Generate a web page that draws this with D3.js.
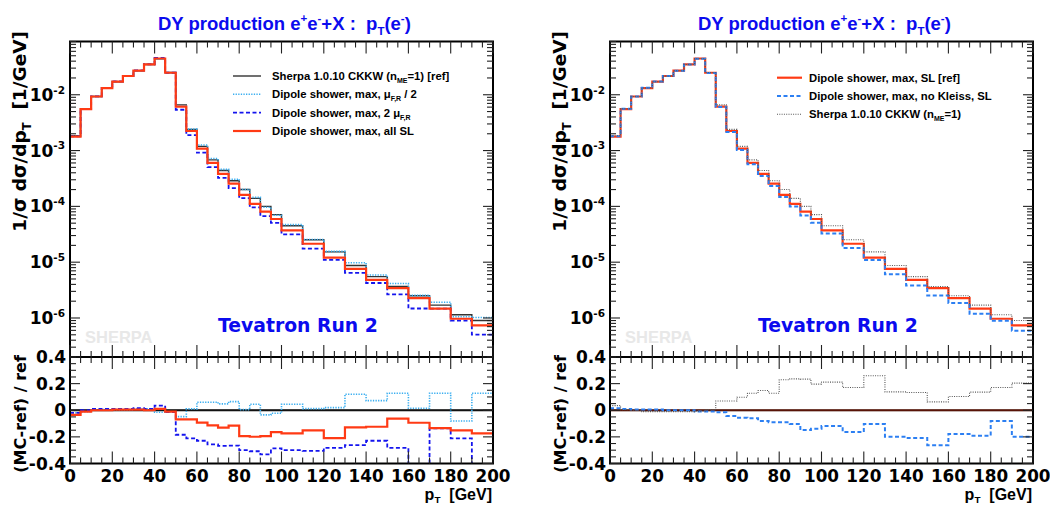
<!DOCTYPE html>
<html><head><meta charset="utf-8">
<script src="https://cdn.jsdelivr.net/npm/d3@7"></script>
<style>body{margin:0;background:#fff} text{white-space:pre}</style>
</head><body><svg id="c" width="1050" height="506"></svg>
<script>
// ---------------- data ----------------
const binEdges = [0,5,10,15,20,25,30,35,40,45,50,55,60,65,70,75,80,85,90,95,100,110,120,130,140,150,160,170,180,190,200];
const xTicksMajor = [0,20,40,60,80,100,120,140,160,180,200];
const ratioTickLabels = [-0.4,-0.2,0,0.2,0.4];
const logDecades = [-6,-5,-4,-3,-2];

// left panel: 1/sigma dsigma/dpT
const sherpaRef    = [1.84e-3,5.6e-3,9.3e-3,1.32e-2,1.71e-2,2.16e-2,2.69e-2,3.49e-2,4.42e-2,2.51e-2,6.6e-3,2.4e-3,1.19e-3,6.8e-4,4.4e-4,2.88e-4,2.0e-4,1.39e-4,1.0e-4,7.1e-5,4.5e-5,2.52e-5,1.53e-5,8.7e-6,5.5e-6,3.67e-6,2.5e-6,1.7e-6,1.14e-6,9.0e-7];
const dipoleHalfMu = [1.80e-3,5.54e-3,9.3e-3,1.33e-2,1.72e-2,2.17e-2,2.72e-2,3.52e-2,4.35e-2,2.47e-2,6.28e-3,2.42e-3,1.26e-3,7.21e-4,4.61e-4,3.07e-4,2.01e-4,1.45e-4,9.65e-5,6.94e-5,4.70e-5,2.55e-5,1.56e-5,9.74e-6,5.90e-6,4.14e-6,2.54e-6,1.92e-6,1.05e-6,1.02e-6];
const dipoleTwoMu  = [1.80e-3,5.6e-3,9.39e-3,1.33e-2,1.73e-2,2.18e-2,2.73e-2,3.52e-2,4.57e-2,2.48e-2,5.39e-3,1.89e-3,9.17e-4,5.05e-4,3.23e-4,2.12e-4,1.40e-4,9.62e-5,6.68e-5,5.06e-5,3.15e-5,1.75e-5,1.10e-5,6.42e-6,4.24e-6,2.64e-6,1.48e-6,1.47e-6,9.0e-7,5.04e-7];
const dipoleAllSL  = [1.78e-3,5.54e-3,9.3e-3,1.32e-2,1.72e-2,2.17e-2,2.70e-2,3.49e-2,4.46e-2,2.48e-2,6.15e-3,2.24e-3,1.08e-3,6.03e-4,3.82e-4,2.55e-4,1.61e-4,1.11e-4,8.06e-5,5.94e-5,3.72e-5,2.14e-5,1.21e-5,7.59e-6,4.82e-6,3.44e-6,2.27e-6,1.47e-6,9.7e-7,7.4e-7];
// left panel: (MC-ref)/ref
const ratioHalfMu = [-0.02,-0.01,0.0,0.005,0.005,0.005,0.01,0.01,-0.015,-0.015,-0.048,0.01,0.06,0.06,0.048,0.065,0.005,0.045,-0.035,-0.023,0.045,0.012,0.02,0.12,0.072,0.128,0.015,0.128,-0.081,0.128];
const ratioTwoMu  = [-0.02,0.0,0.01,0.01,0.01,0.01,0.015,0.01,0.035,-0.013,-0.184,-0.211,-0.229,-0.257,-0.267,-0.265,-0.30,-0.308,-0.332,-0.287,-0.30,-0.305,-0.282,-0.262,-0.229,-0.282,-0.41,-0.136,-0.211,-0.44];
const ratioAllSL  = [-0.035,-0.01,0.0,0.0,0.005,0.005,0.005,0.0,0.01,-0.01,-0.068,-0.068,-0.093,-0.113,-0.131,-0.116,-0.194,-0.199,-0.194,-0.164,-0.174,-0.151,-0.209,-0.128,-0.124,-0.063,-0.094,-0.134,-0.151,-0.174];

// right panel
const dipoleSLRef  = [1.78e-3,5.54e-3,9.3e-3,1.32e-2,1.72e-2,2.17e-2,2.70e-2,3.49e-2,4.46e-2,2.48e-2,6.15e-3,2.24e-3,1.08e-3,6.03e-4,3.82e-4,2.55e-4,1.61e-4,1.11e-4,8.06e-5,5.94e-5,3.72e-5,2.14e-5,1.21e-5,7.59e-6,4.82e-6,3.44e-6,2.27e-6,1.47e-6,9.7e-7,7.4e-7];
const dipoleNoKleiss = [1.80e-3,5.60e-3,9.35e-3,1.33e-2,1.73e-2,2.17e-2,2.70e-2,3.49e-2,4.42e-2,2.46e-2,6.06e-3,2.14e-3,1.02e-3,5.67e-4,3.51e-4,2.32e-4,1.47e-4,9.96e-5,6.86e-5,5.11e-5,3.28e-5,1.79e-5,1.09e-5,6.08e-6,3.81e-6,2.54e-6,1.86e-6,1.19e-6,8.9e-7,5.9e-7];
const sherpaCmp    = [1.84e-3,5.6e-3,9.3e-3,1.32e-2,1.71e-2,2.16e-2,2.69e-2,3.49e-2,4.42e-2,2.51e-2,6.6e-3,2.4e-3,1.19e-3,6.8e-4,4.4e-4,2.88e-4,2.0e-4,1.39e-4,1.0e-4,7.1e-5,4.5e-5,2.52e-5,1.53e-5,8.7e-6,5.5e-6,3.67e-6,2.5e-6,1.7e-6,1.14e-6,9.0e-7];
const ratioNoKleiss = [0.015,0.01,0.005,0.005,0.005,0.0,0.0,0.0,-0.01,-0.01,-0.015,-0.043,-0.056,-0.06,-0.08,-0.09,-0.09,-0.103,-0.149,-0.139,-0.118,-0.164,-0.103,-0.199,-0.209,-0.262,-0.179,-0.191,-0.081,-0.199];
const ratioSherpa   = [0.035,0.005,0.0,-0.01,-0.01,-0.01,-0.01,-0.01,-0.007,0.005,0.07,0.07,0.098,0.128,0.148,0.128,0.229,0.236,0.234,0.196,0.211,0.171,0.259,0.138,0.133,0.063,0.103,0.136,0.171,0.204];
const zeroRef = binEdges.slice(1).map(() => 0);

// ---------------- drawing ----------------
const svg = d3.select('#c');
const BOLD_WIDE = "'DejaVu Sans', sans-serif";
const BOLD_ARIAL = "'Liberation Sans', Arial, sans-serif";
const BLUE = '#0b0bee';

function rich(parent, x, y, parts, size, opts = {}) {
  const t = parent.append('text').attr('x', x).attr('y', y)
    .attr('font-family', opts.family || BOLD_ARIAL).attr('font-weight', 'bold')
    .attr('font-size', size).attr('fill', opts.color || '#000')
    .attr('text-anchor', opts.anchor || 'start');
  const subShift = opts.subShift != null ? opts.subShift : 0.28;
  let cur = 0;
  parts.forEach(p => {
    const s = typeof p === 'string' ? {t: p} : p;
    const target = s.s === 'sup' ? -0.42 * size : s.s === 'sub' ? subShift * size : 0;
    const ts = t.append('tspan').text(s.t).attr('dy', target - cur);
    if (s.s) ts.attr('font-size', size * 0.62);
    cur = target;
  });
  return t;
}

function drawPanel(ox, cfg, idx) {
  const W = 423, top = 41.5, mid = 357, bot = 463.5;
  const g = svg.append('g');
  const x = d3.scaleLinear().domain([0, 200]).range([ox, ox + W]);
  const y = d3.scaleLog().domain([2.0e-7, 0.09]).range([mid, top]);
  const yr = d3.scaleLinear().domain([-0.4, 0.4]).range([bot, mid]);

  const defs = svg.append('defs');
  defs.append('clipPath').attr('id', 'cm' + idx).append('rect')
    .attr('x', ox).attr('y', top).attr('width', W).attr('height', mid - top);
  defs.append('clipPath').attr('id', 'cr' + idx).append('rect')
    .attr('x', ox).attr('y', mid).attr('width', W).attr('height', bot - mid);

  const stepPts = (vals, ys) => {
    const pts = [];
    vals.forEach((v, i) => { pts.push([x(binEdges[i]), ys(v)]); pts.push([x(binEdges[i + 1]), ys(v)]); });
    return pts;
  };
  const line = d3.line();

  // watermark + label
  g.append('text').attr('x', ox + 15).attr('y', 342.5).text('SHERPA')
    .attr('font-family', BOLD_ARIAL).attr('font-weight', 'bold').attr('font-size', 16.5).attr('fill', '#e8e8e8');
  g.append('text').attr('x', ox + 148).attr('y', 332).text('Tevatron Run 2')
    .attr('font-family', BOLD_WIDE).attr('font-weight', 'bold').attr('font-size', 18.8).attr('fill', BLUE);

  // main histograms
  const gm = g.append('g').attr('clip-path', `url(#cm${idx})`);
  cfg.series.forEach(s => {
    gm.append('path').attr('d', line(stepPts(s.main, y))).attr('fill', 'none')
      .attr('stroke', s.color).attr('stroke-width', s.width).attr('stroke-dasharray', s.dash || null);
  });
  // ratio histograms
  const gr = g.append('g').attr('clip-path', `url(#cr${idx})`);
  gr.append('path').attr('d', line(stepPts(zeroRef, yr))).attr('fill', 'none')
    .attr('stroke', '#000').attr('stroke-width', 2.2);
  cfg.series.forEach(s => {
    gr.append('path').attr('d', line(stepPts(s.ratio, yr))).attr('fill', 'none')
      .attr('stroke', s.color).attr('stroke-width', s.ratioWidth || s.width).attr('stroke-dasharray', s.dash || null)
      .attr('stroke-opacity', s.isRef ? 0.35 : 1);
  });

  // frames
  [[top, mid], [mid, bot]].forEach(([a, b]) => {
    g.append('rect').attr('x', ox).attr('y', a).attr('width', W).attr('height', b - a)
      .attr('fill', 'none').attr('stroke', '#000').attr('stroke-width', 2);
  });

  // x ticks
  const ticks = g.append('g').attr('stroke', '#222').attr('stroke-width', 1.1);
  d3.range(0, 201, 5).forEach(v => {
    const L = v % 20 === 0 ? 12 : 6;
    const xx = x(v);
    [[top, 1], [mid, -1], [mid, 1], [bot, -1]].forEach(([yy, dir]) => {
      ticks.append('line').attr('x1', xx).attr('x2', xx).attr('y1', yy).attr('y2', yy + dir * L);
    });
  });
  // log y ticks
  d3.range(-7, -1).forEach(d => {
    d3.range(1, 10).forEach(m => {
      const v = m * Math.pow(10, d);
      if (v < 2.0e-7 || v > 0.09) return;
      const L = m === 1 ? 10 : 6;
      const yy = y(v);
      ticks.append('line').attr('x1', ox).attr('x2', ox + L).attr('y1', yy).attr('y2', yy);
      ticks.append('line').attr('x1', ox + W).attr('x2', ox + W - L).attr('y1', yy).attr('y2', yy);
    });
  });
  // ratio y ticks
  d3.range(-8, 9).forEach(k => {
    const v = k * 0.05;
    const L = k % 4 === 0 ? 10 : 6;
    const yy = yr(v);
    ticks.append('line').attr('x1', ox).attr('x2', ox + L).attr('y1', yy).attr('y2', yy);
    ticks.append('line').attr('x1', ox + W).attr('x2', ox + W - L).attr('y1', yy).attr('y2', yy);
  });

  // tick labels
  xTicksMajor.forEach(v => {
    g.append('text').attr('x', x(v)).attr('y', 481.5).attr('text-anchor', 'middle').text(v)
      .attr('font-family', BOLD_WIDE).attr('font-weight', 'bold').attr('font-size', 16.8);
  });
  logDecades.forEach(d => {
    const yy = y(Math.pow(10, d));
    rich(g, ox - 5, yy + 6, ['10', {t: '-' + Math.abs(d), s: 'sup'}], 17, {family: BOLD_WIDE, anchor: 'end'});
  });
  ratioTickLabels.forEach(v => {
    g.append('text').attr('x', ox - 4).attr('y', yr(v) + 6).attr('text-anchor', 'end')
      .text(v === 0 ? '0' : v.toFixed(1))
      .attr('font-family', BOLD_WIDE).attr('font-weight', 'bold').attr('font-size', 17);
  });

  // axis titles
  rich(g, ox + W - 1, 500, ['p', {t: 'T', s: 'sub'}, '  [GeV]'], 16, {anchor: 'end', subShift: 0.2});
  const yt = g.append('g').attr('transform', `translate(${ox - 44},31) rotate(-90)`);
  rich(yt, 0, 0, ['1/\u03c3 d\u03c3/dp', {t: 'T', s: 'sub'}, '  [1/GeV]'], 18.5, {family: BOLD_WIDE, anchor: 'end'});
  const yt2 = g.append('g').attr('transform', `translate(${ox - 44},414) rotate(-90)`);
  rich(yt2, 0, 0, ['(MC-ref) / ref'], 16, {family: BOLD_WIDE, anchor: 'middle'});

  // title
  rich(g, ox + 88, 30, ['DY production e', {t: '+', s: 'sup'}, 'e', {t: '-', s: 'sup'}, '+X :  p', {t: 'T', s: 'sub'}, '(e', {t: '-', s: 'sup'}, ')'],
    18.5, {color: BLUE});

  // legend
  cfg.legend.forEach((e, i) => {
    const ly = cfg.legY[i];
    g.append('line').attr('x1', ox + cfg.legX[0]).attr('x2', ox + cfg.legX[1]).attr('y1', ly).attr('y2', ly)
      .attr('stroke', e.color).attr('stroke-width', e.width).attr('stroke-dasharray', e.dash || null);
    rich(g, ox + cfg.legX[2], ly + 4, e.label, 11.3);
  });
}

const sBlack = {color: '#333', width: 1.4};
const sLight = {color: '#3aaef0', width: 1.6, dash: '1.3,1.3'};
const sBlue  = {color: '#1414ee', width: 1.8, dash: '4,2.5'};
const sRed   = {color: '#ff3a14', width: 2.2};
const sBlue2 = {color: '#2c7ff2', width: 2, dash: '4,2.5'};
const sGray  = {color: '#555', width: 1.1, dash: '1,1.3'};

drawPanel(70, {
  series: [
    Object.assign({main: sherpaRef, ratio: zeroRef, isRef: true}, sBlack),
    Object.assign({main: dipoleHalfMu, ratio: ratioHalfMu}, sLight),
    Object.assign({main: dipoleTwoMu, ratio: ratioTwoMu}, sBlue),
    Object.assign({main: dipoleAllSL, ratio: ratioAllSL}, sRed)
  ],
  legend: [
    Object.assign({label: ['Sherpa 1.0.10 CKKW (n', {t: 'ME', s: 'sub'}, '=1) [ref]']}, sBlack),
    Object.assign({label: ['Dipole shower, max, \u03bc', {t: 'F,R', s: 'sub'}, ' / 2']}, sLight),
    Object.assign({label: ['Dipole shower, max, 2 \u03bc', {t: 'F,R', s: 'sub'}]}, sBlue),
    Object.assign({label: ['Dipole shower, max, all SL']}, sRed)
  ],
  legX: [163, 191, 202],
  legY: [76, 94.3, 112.6, 131]
}, 0);

drawPanel(610, {
  series: [
    Object.assign({main: dipoleSLRef, ratio: zeroRef, isRef: true}, sRed),
    Object.assign({main: dipoleNoKleiss, ratio: ratioNoKleiss}, sBlue2),
    Object.assign({main: sherpaCmp, ratio: ratioSherpa}, sGray)
  ],
  legend: [
    Object.assign({label: ['Dipole shower, max, SL [ref]']}, sRed),
    Object.assign({label: ['Dipole shower, max, no Kleiss, SL']}, sBlue2),
    Object.assign({label: ['Sherpa 1.0.10 CKKW (n', {t: 'ME', s: 'sub'}, '=1)']}, sGray)
  ],
  legX: [167, 192, 199],
  legY: [77.7, 96, 114.3]
}, 1);
</script></body></html>
